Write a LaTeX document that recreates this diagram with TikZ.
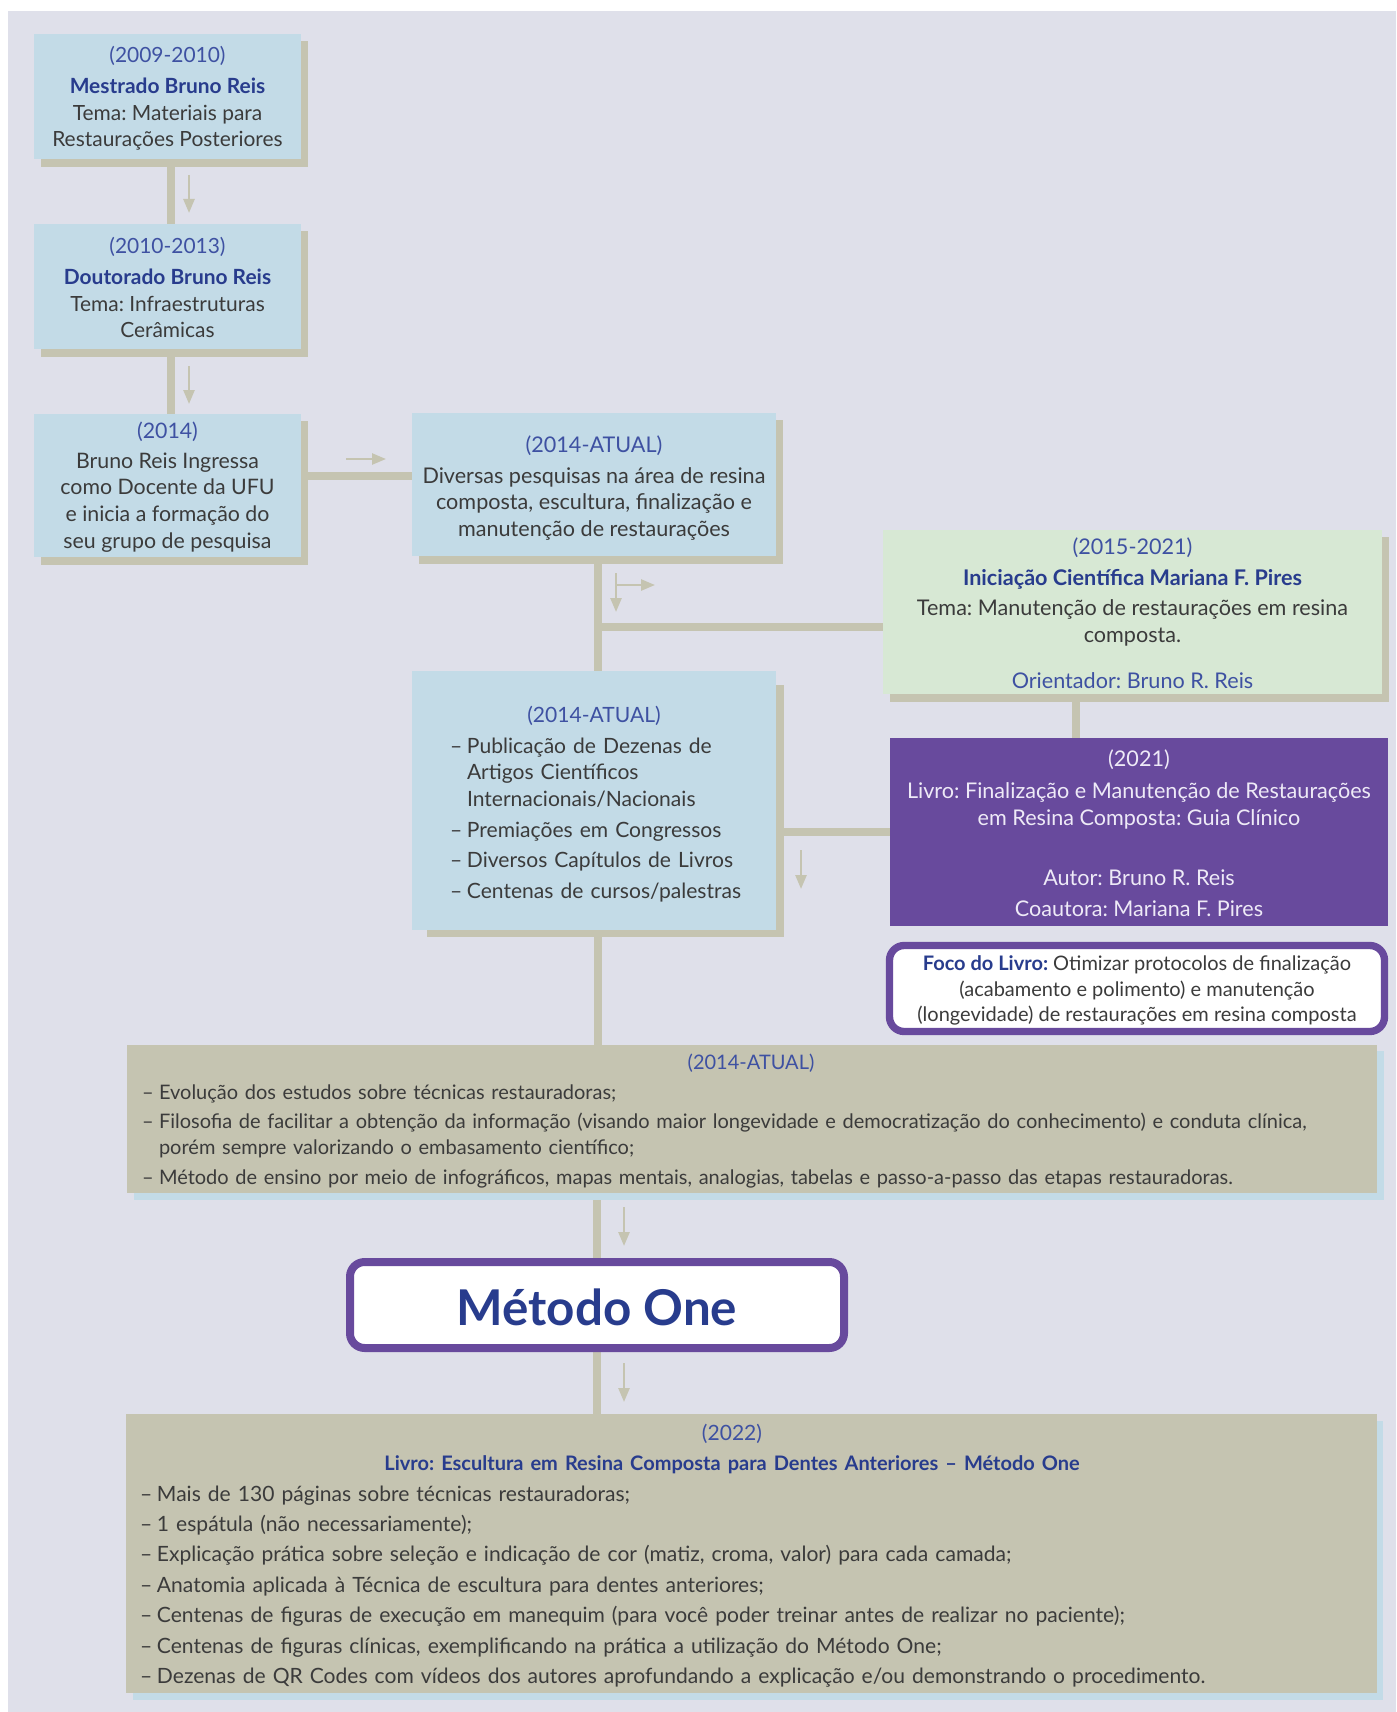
\documentclass[tikz,border=0pt]{standalone}
\usepackage{fontspec}
\setmainfont{Lato}
\usetikzlibrary{arrows.meta,calc}
\newdimen\pxu \pxu=0.75pt
\definecolor{bgc}{HTML}{DFE0EA}
\definecolor{boxblue}{HTML}{C3DBE7}
\definecolor{tanc}{HTML}{C5C4B1}
\definecolor{greenc}{HTML}{D7E8D4}
\definecolor{purplec}{HTML}{684A9D}
\definecolor{txtc}{HTML}{3B3B3B}
\definecolor{titleblue}{HTML}{283C8D}
\definecolor{dateblue}{HTML}{3E51A2}
\definecolor{ptxt}{HTML}{EEEAF7}
\pgfdeclarelayer{bgl}
\pgfdeclarelayer{conn}
\pgfdeclarelayer{shad}
\pgfsetlayers{bgl,conn,shad,main}
\newcommand{\dt}[1]{\textcolor{dateblue}{#1}}
\newcommand{\ttl}[1]{\textcolor{titleblue}{\bfseries #1}}
\newcommand{\litem}[1]{\par\noindent\hangindent=17\pxu\hangafter=1\makebox[17\pxu][l]{–}#1}
\newcommand{\ctrline}[2]{\par\noindent\makebox[#1\pxu][c]{#2}}
\begin{document}
\frenchspacing
\begin{tikzpicture}[x=0.75pt,y=-0.75pt,
  box/.style={rectangle,inner sep=0pt,outer sep=0pt},
  sz/.style 2 args={minimum width={#1*0.75pt},minimum height={#2*0.75pt}},
  txt/.style={inner sep=0pt,text=txtc,align=center,font=\fontsize{16}{20}\selectfont},
  conn/.style={draw=tanc,line width=6pt},
  sarrow/.style={draw=tanc,line width=1.9pt,-{Triangle[length=10.5pt,width=8.25pt]}},
]
\useasboundingbox (0,0) rectangle (1396,1712);
\begin{pgfonlayer}{bgl}
\fill[white] (0,0) rectangle (1396,1712);
\fill[bgc] (8,11) rectangle (1396,1712);
\end{pgfonlayer}

% boxes
\node[box,sz={267}{125},fill=boxblue] (b1) at (167.5,96.5) {};
\node[txt,font=\fontsize{15.7}{20}\selectfont] (t1) at ([yshift=-1.5pt]b1.center) {\dt{(2009-2010)}\\[3pt]\ttl{Mestrado Bruno Reis}\\Tema: Materiais para\\Restaurações Posteriores};

\node[box,sz={267}{125},fill=boxblue] (b2) at (167.5,286.5) {};
\node[txt,font=\fontsize{15.7}{20}\selectfont] (t2) at ([yshift=-1pt]b2.center) {\dt{(2010-2013)}\\[3pt]\ttl{Doutorado Bruno Reis}\\Tema: Infraestruturas\\Cerâmicas};

\node[box,sz={267}{143},fill=boxblue] (b3) at (167.5,485.5) {};
\node[txt] (t3) at ([yshift=-1pt]b3.center) {\dt{(2014)}\\[2.5pt]Bruno Reis Ingressa\\como Docente da UFU\\e inicia a formação do\\seu grupo de pesquisa};

\node[box,sz={364}{143},fill=boxblue] (b4) at (594,484.5) {};
\node[txt,font=\fontsize{16.2}{20}\selectfont] (t4) at ([yshift=-2.6pt]b4.center) {\dt{(2014-ATUAL)}\\[3pt]Diversas pesquisas na área de resina\\composta, escultura, finalização e\\manutenção de restaurações};

\node[box,sz={499}{164},fill=greenc] (g) at (1132.5,612) {};
\node[txt,font=\fontsize{16.2}{20}\selectfont] (tg) at ([yshift=-1pt]g.center) {\dt{(2015-2021)}\\[3pt]\ttl{Iniciação Científica Mariana F. Pires}\\[3pt]Tema: Manutenção de restaurações em resina\\composta.\\[14.5pt]\dt{Orientador: Bruno R. Reis}};

\node[box,sz={498}{188},fill=purplec] (p) at (1139,832) {};
\node[txt,text=ptxt,font=\fontsize{16.2}{20}\selectfont] (tp) at ([yshift=-1pt]p.center) {(2021)\\[4pt]Livro: Finalização e Manutenção de Restaurações\\em Resina Composta: Guia Clínico\\[25.5pt]Autor: Bruno R. Reis\\[3pt]Coautora: Mariana F. Pires};

\node[box,draw=purplec,line width=5.5pt,fill=white,rounded corners=11pt,sz={495}{86}] (f) at (1137,988.5) {};
\node[txt,font=\fontsize{15}{19}\selectfont] (tf) at ([yshift=-1.6pt]f.center) {\ttl{Foco do Livro:} Otimizar protocolos de finalização\\(acabamento e polimento) e manutenção\\(longevidade) de restaurações em resina composta};

\node[box,sz={364}{259},fill=boxblue] (b5) at (594,800.5) {};
\node[txt,text width=247.5pt,align=left,font=\fontsize{15.8}{20}\selectfont] (t5) at (615,797) {%
\setlength{\parskip}{3pt}%
\ctrline{288}{\dt{(2014-ATUAL)}}%
\litem{Publicação de Dezenas de\hfil\break Artigos Científicos\hfil\break Internacionais/Nacionais}%
\litem{Premiações em Congressos}%
\litem{Diversos Capítulos de Livros}%
\litem{Centenas de cursos/palestras}\par};

\node[box,sz={1250}{148},fill=tanc] (b6) at (752,1119) {};
\node[txt,text width=922.5pt,align=left,font=\fontsize{15}{19.5}\selectfont] (t6) at (757,1114) {%
\setlength{\parskip}{2.6pt}%
\ctrline{1218}{\dt{(2014-ATUAL)}}%
\litem{Evolução dos estudos sobre técnicas restauradoras;}%
\litem{Filosofia de facilitar a obtenção da informação (visando maior longevidade e democratização do conhecimento) e conduta clínica,\hfil\break porém sempre valorizando o embasamento científico;}%
\litem{Método de ensino por meio de infográficos, mapas mentais, analogias, tabelas e passo-a-passo das etapas restauradoras.}\par};

\node[box,draw=purplec,line width=6pt,fill=white,rounded corners=11pt,sz={494}{86}] (m) at (597,1305) {};
\node[inner sep=0pt,anchor=base,font=\fontsize{37}{42}\selectfont\bfseries,text=titleblue] (tm) at (597,1325) {Método One};

\node[box,sz={1251}{279},fill=tanc] (b7) at (751.5,1553.5) {};
\node[txt,text width=922.5pt,align=left,font=\fontsize{15.8}{22.8}\selectfont] (t7) at (755,1548.5) {%
\ctrline{1184}{\dt{(2022)}}%
\ctrline{1184}{\fontsize{15}{22.8}\selectfont\ttl{Livro: Escultura em Resina Composta para Dentes Anteriores – Método One}}%
\litem{Mais de 130 páginas sobre técnicas restauradoras;}%
\litem{1 espátula (não necessariamente);}%
\litem{Explicação prática sobre seleção e indicação de cor (matiz, croma, valor) para cada camada;}%
\litem{Anatomia aplicada à Técnica de escultura para dentes anteriores;}%
\litem{Centenas de figuras de execução em manequim (para você poder treinar antes de realizar no paciente);}%
\litem{Centenas de figuras clínicas, exemplificando na prática a utilização do Método One;}%
\litem{Dezenas de QR Codes com vídeos dos autores aprofundando a explicação e/ou demonstrando o procedimento.}\par};

% shadows
\begin{pgfonlayer}{shad}
\foreach \n in {b1,b2,b3,b4,g}
  \fill[tanc] ($(\n.north west)+(7,7)$) rectangle ($(\n.south east)+(7,8)$);
\fill[tanc] ($(b5.north west)+(15,14)$) rectangle ($(b5.south east)+(8,7)$);
\fill[boxblue] ($(b6.north west)+(7,6)$) rectangle ($(b6.south east)+(7,7)$);
\fill[boxblue] ($(b7.north west)+(7,7)$) rectangle ($(b7.south east)+(6,7)$);
\end{pgfonlayer}

% connectors
\begin{pgfonlayer}{conn}
\draw[conn] ([xshift=2.6pt]b1.south) -- ([xshift=2.6pt]b2.north);
\draw[conn] ([xshift=2.6pt]b2.south) -- ([xshift=2.6pt]b3.north);
\draw[conn] ([yshift=7.1pt]b3.east) -- ([yshift=7.1pt]b3.east -| b4.west);
\draw[conn] ([xshift=3pt]b4.south) -- ([xshift=3pt]b4.south |- b5.north);
\coordinate (gj) at ([yshift=-11.25pt]g.west);
\draw[conn] ([xshift=3pt]b4.south |- gj) -- (gj);
\draw[conn] ([xshift=-42.4pt]g.south) -- ([xshift=-42.4pt]g.south |- p.north);
\draw[conn] (b5.east |- p.west) -- (p.west);
\draw[conn] ([xshift=3pt]b5.south) -- ([xshift=3pt]b5.south |- b6.north);
\draw[conn] (m.north |- b6.south) -- (m.north);
\draw[conn] (m.south) -- (m.south |- b7.north);
\end{pgfonlayer}

% small arrows
\draw[sarrow] (189,175) -- (189,213);
\draw[sarrow] (189,366) -- (189,404);
\draw[sarrow] (346,459) -- (386,459);
\draw[sarrow] (616,573) -- (616,612);
\draw[sarrow] (616,585) -- (655,585);
\draw[sarrow] (801,850) -- (801,889);
\draw[sarrow] (624,1207) -- (624,1246);
\draw[sarrow] (624,1363) -- (624,1402);
\end{tikzpicture}
\end{document}
